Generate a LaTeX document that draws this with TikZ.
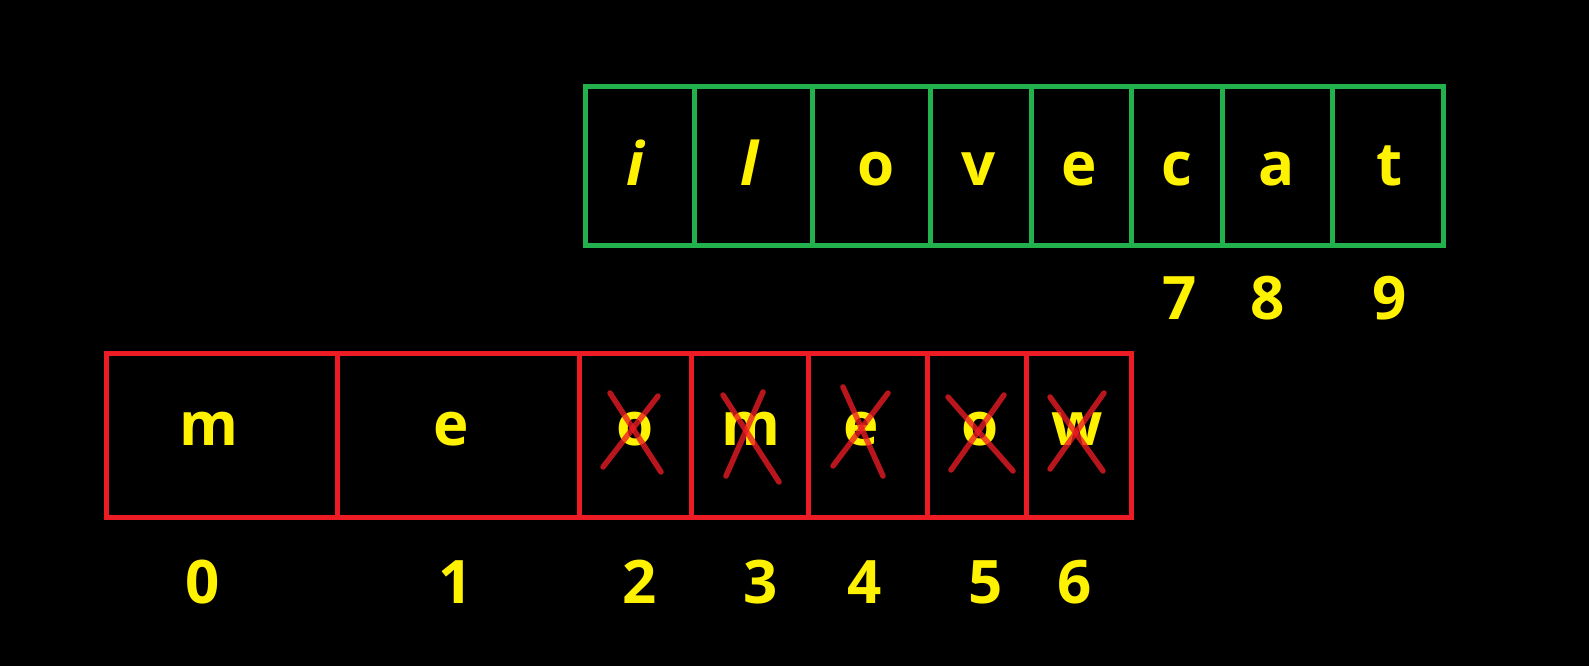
\documentclass[tikz,border=0pt]{standalone}
\usepackage{fontspec}
\setmainfont{Open Sans}
\begin{document}
\begin{tikzpicture}[x=1pt,y=-1pt,
  gbox/.style={draw=pgreen,line width=5pt},
  rbox/.style={draw=pred,line width=5pt},
  letter/.style={text=pyellow,font=\fontsize{60}{60}\selectfont\bfseries,anchor=base,inner sep=0pt},
  ilet/.style={letter,font=\fontsize{60}{60}\selectfont\bfseries\itshape},
  cross/.style={draw=pred,line width=5.5pt,line cap=round,draw opacity=0.78}]
\definecolor{pgreen}{HTML}{22B14C}
\definecolor{pred}{HTML}{ED1C24}
\definecolor{pyellow}{HTML}{FFF200}
\fill[black] (0,0) rectangle (1589,666);
\useasboundingbox (0,0) rectangle (1589,666);
% green array
\draw[gbox] (585,87) rectangle (1443,245);
\foreach \x in {694,812,930,1031,1131,1222,1332}{\draw[gbox] (\x,87) -- (\x,245);}
\node[ilet] (g1) at (635,185) {i};
\node[ilet] (g2) at (749,185) {l};
\node[letter] (g3) at (876,185) {o};
\node[letter] (g4) at (979,185) {v};
\node[letter] (g5) at (1079,185) {e};
\node[letter] (g6) at (1177,185) {c};
\node[letter] (g7) at (1277,185) {a};
\node[letter] (g8) at (1390,185) {t};
\node[letter] (n7) at (1180,319) {7};
\node[letter] (n8) at (1268,319) {8};
\node[letter] (n9) at (1390,319) {9};
% red array
\draw[rbox] (106,353) rectangle (1131,517);
\foreach \x in {337,579,691,808,927,1026}{\draw[rbox] (\x,353) -- (\x,517);}
\node[letter] (r0) at (209,445) {m};
\node[letter] (r1) at (451,445) {e};
\node[letter] (r2) at (635,445) {o};
\node[letter] (r3) at (751,445) {m};
\node[letter] (r4) at (861,445) {e};
\node[letter] (r5) at (980,445) {o};
\node[letter] (r6) at (1077,445) {w};
\node[letter] (n0) at (203,603) {0};
\node[letter] (n1) at (456,603) {1};
\node[letter] (n2) at (640,603) {2};
\node[letter] (n3) at (761,603) {3};
\node[letter] (n4) at (865,603) {4};
\node[letter] (n5) at (986,603) {5};
\node[letter] (n6) at (1075,603) {6};
% crosses
\draw[cross] (610,393) -- (661,472);
\draw[cross] (658,396) -- (603,467);
\draw[cross] (723,395) -- (779,482);
\draw[cross] (763,392) -- (726,476);
\draw[cross] (843,387) -- (883,476);
\draw[cross] (888,393) -- (833,466);
\draw[cross] (948,397) -- (1013,471);
\draw[cross] (1004,395) -- (951,470);
\draw[cross] (1050,397) -- (1103,471);
\draw[cross] (1104,393) -- (1050,469);
\end{tikzpicture}
\end{document}
